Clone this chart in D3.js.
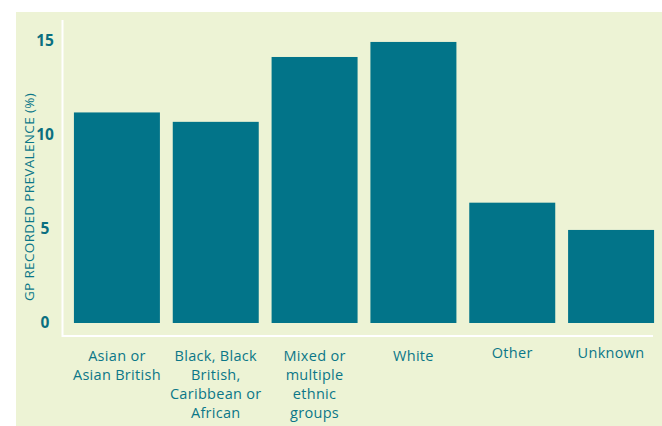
<!DOCTYPE html>
<html lang="en">
<head>
    <meta charset="UTF-8">
    <title>GP recorded prevalence by ethnic group</title>
    <style>
        body {
            margin: 0;
            padding: 0;
            background: #fff;
        }
        svg {
            display: block;
        }
        text {
            font-family: "Open Sans", "Noto Sans", sans-serif;
        }
    </style>
</head>
<body>

    <svg width="662" height="426"></svg>

    <script src="https://d3js.org/d3.v7.min.js"></script>
    <script>
        // Data
        const categories = [
            ["Asian or", "Asian British"],
            ["Black, Black", "British,", "Caribbean or", "African"],
            ["Mixed or", "multiple", "ethnic", "groups"],
            ["White"],
            ["Other"],
            ["Unknown"]
        ];
        const values = [11.2, 10.7, 14.15, 14.95, 6.4, 4.95];
        const yTicks = [0, 5, 10, 15];

        const teal = "#027489";
        const textTeal = "#0b7788";

        const svg = d3.select("svg");

        // panel background
        svg.append("rect")
            .attr("x", 16).attr("y", 12)
            .attr("width", 646).attr("height", 414)
            .attr("fill", "#edf3d5");

        const keys = categories.map(d => d.join(" "));

        const x = d3.scaleBand()
            .domain(keys)
            .range([67.5, 660.5])
            .paddingInner(0.13)
            .paddingOuter(0.065);

        const y = d3.scaleLinear()
            .domain([0, 15])
            .range([323, 41]);

        // bars
        svg.selectAll("rect.bar")
            .data(values)
            .enter()
            .append("rect")
            .attr("class", "bar")
            .attr("x", (d, i) => x(keys[i]))
            .attr("y", d => y(d))
            .attr("width", x.bandwidth())
            .attr("height", d => y(0) - y(d))
            .attr("fill", teal);

        // white axis lines
        svg.append("line")
            .attr("x1", 62.5).attr("x2", 62.5)
            .attr("y1", 20).attr("y2", 337)
            .attr("stroke", "#fff").attr("stroke-width", 2);
        svg.append("line")
            .attr("x1", 62).attr("x2", 653)
            .attr("y1", 336).attr("y2", 336)
            .attr("stroke", "#fff").attr("stroke-width", 2);

        // y tick labels
        svg.selectAll("text.ytick")
            .data(yTicks)
            .enter()
            .append("text")
            .attr("class", "ytick")
            .attr("x", 45)
            .attr("y", d => y(d))
            .attr("dy", "0.35em")
            .attr("text-anchor", "middle")
            .attr("font-size", 15.5)
            .attr("font-weight", "bold")
            .attr("fill", "#0a6f80")
            .text(d => d);

        // y axis title
        svg.append("text")
            .attr("transform", "translate(34,197) rotate(-90)")
            .attr("text-anchor", "middle")
            .attr("font-size", 13.5)
            .attr("letter-spacing", 0.35)
            .attr("fill", textTeal)
            .text("GP RECORDED PREVALENCE (%)");

        // x category labels
        const labels = svg.selectAll("text.xlab")
            .data(categories)
            .enter()
            .append("text")
            .attr("class", "xlab")
            .attr("x", (d, i) => x(keys[i]) + x.bandwidth() / 2)
            .attr("y", (d, i) => i >= 4 ? 358 : 361)
            .attr("text-anchor", "middle")
            .attr("font-size", 14.5)
            .attr("letter-spacing", 0.3)
            .attr("fill", textTeal);

        labels.selectAll("tspan")
            .data(d => d)
            .enter()
            .append("tspan")
            .attr("x", function () { return d3.select(this.parentNode).attr("x"); })
            .attr("dy", (d, i) => i === 0 ? 0 : 19)
            .text(d => d);
    </script>

</body>
</html>
